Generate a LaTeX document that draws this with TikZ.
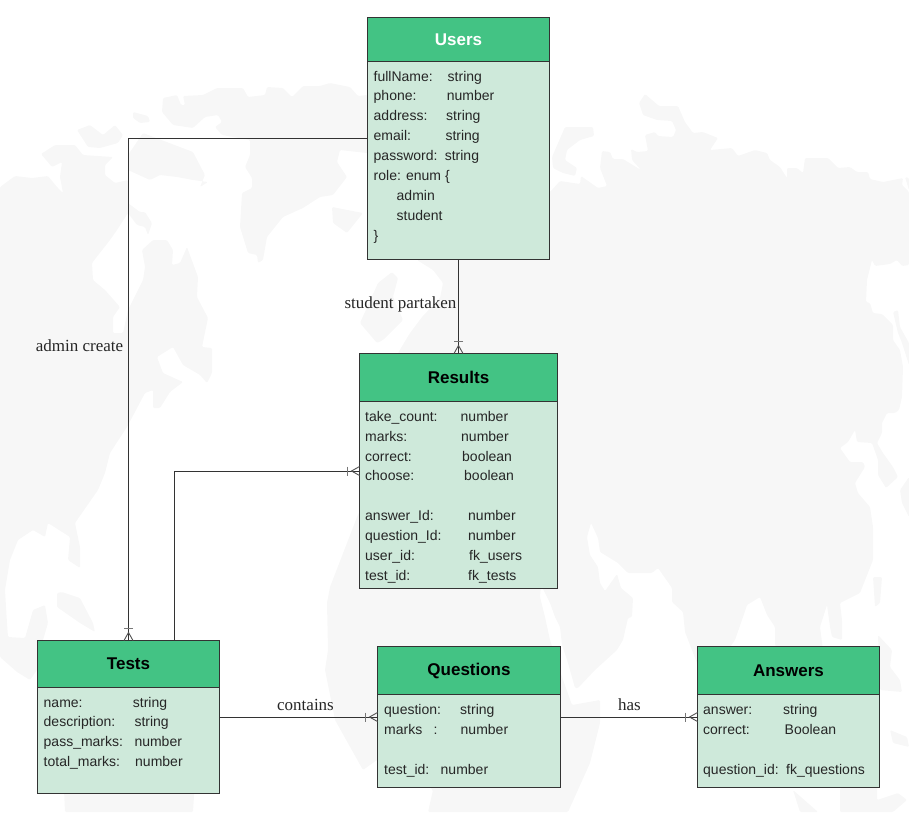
\documentclass[tikz,border=0pt]{standalone}
\usepackage{fontspec}
\setmainfont{Liberation Sans}
\newfontfamily\lblfont{Liberation Serif}
\definecolor{maptone}{HTML}{F7F7F7}
\definecolor{headfill}{HTML}{43C384}
\definecolor{bodyfill}{HTML}{CEE9DA}
\definecolor{inkline}{HTML}{333333}
\definecolor{inktext}{HTML}{262626}
\definecolor{tipgrey}{HTML}{777777}
\tikzset{
  land/.style={fill=maptone,rounded corners=1.2pt},
  entity/.style={draw=inkline,line width=1pt,fill=bodyfill,inner sep=0pt,outer sep=0pt},
  head/.style={draw=inkline,line width=1pt,fill=headfill,inner sep=0pt,outer sep=0pt,font=\fontsize{17}{17}\selectfont\bfseries,text=black},
  field/.style={anchor=base west,inner sep=0pt,font=\fontsize{14}{14}\selectfont,text=inktext},
  link/.style={draw=inkline,line width=1pt},
  rel/.style={anchor=base,inner sep=0pt,font=\lblfont\fontsize{17}{17}\selectfont,text=inktext},
  crowfoot/.pic={
    \draw[tipgrey,line width=1.6pt] (-12,-4.5) -- (-12,4.5);
    \draw[inkline!85,line width=.9pt] (0,-4.5) -- (-8,0) -- (0,4.5);
  }
}
\newcommand{\fld}[6]{%
  \node[field] (#1k) at (#2,#4) {#5};
  \node[field] (#1v) at (#3,#4) {#6};}
\newcommand{\solo}[4]{\node[field] (#1) at (#2,#3) {#4};}
\begin{document}
\begin{tikzpicture}[x=1pt,y=-1pt]
\useasboundingbox (0,0) rectangle (909,812);
% world map: Asia, Africa
\fill[land] (550,192)--(560,181)--(580,184)--(581,176)--(598,188)--(607,186)--(600,168)--(602,151)--(610,152)--(613,159)--(623,159)--(641,170)--(632,160)--(631,149)--(637,152)--(648,151)--(645,135)--(655,132)--(658,136)--(673,137)--(676,130)--(672,121)--(657,120)--(643,115)--(639,103)--(645,94)--(659,106)--(678,106)--(685,122)--(693,133)--(703,132)--(718,138)--(710,150)--(732,148)--(738,156)--(755,150)--(767,153)--(770,160)--(780,167)--(787,178)--(787,168)--(797,168)--(803,173)--(805,158)--(828,158)--(838,168)--(850,167)--(857,172)--(868,172)--(870,179)--(883,182)--(903,178)--(902,185)--(909,192)--(909,265)--(902,266)--(897,260)--(890,264)--(875,266)--(872,260)--(867,280)--(866,302)--(870,303)--(873,313)--(882,314)--(893,325)--(893,340)--(900,350)--(903,367)--(902,397)--(899,410)--(895,413)--(887,413)--(882,423)--(882,433)--(877,443)--(883,453)--(893,467)--(898,477)--(886,488)--(878,475)--(878,460)--(872,443)--(857,442)--(855,430)--(848,442)--(840,448)--(850,462)--(863,462)--(865,467)--(855,483)--(858,493)--(870,507)--(873,527)--(873,560)--(860,593)--(840,603)--(842,620)--(842,640)--(832,637)--(830,627)--(827,605)--(820,627)--(823,650)--(820,665)--(790,665)--(775,645)--(775,627)--(767,615)--(760,597)--(747,605)--(743,617)--(735,640)--(728,650)--(715,700)--(700,690)--(697,663)--(690,645)--(685,632)--(683,612)--(672,602)--(672,588)--(658,568)--(652,573)--(628,573)--(618,563)--(600,552)--(598,538)--(591,523)--(587,537)--(590,555)--(598,567)--(600,583)--(605,591)--(617,574)--(621,588)--(633,598)--(632,617)--(628,618)--(623,640)--(617,650)--(595,670)--(578,688)--(575,688)--(568,663)--(562,645)--(560,627)--(555,617)--(550,603)--(541,585)--(540,597)--(545,617)--(550,640)--(562,677)--(572,705)--(600,700)--(600,723)--(590,763)--(568,812)--(428,812)--(433,790)--(420,780)--(377,760)--(363,770)--(335,720)--(325,670)--(328,650)--(327,603)--(330,587)--(347,543)--(357,517)--(370,490)--(398,353)--(410,333)--(422,317)--(440,298)--(443,283)--(433,270)--(417,260)--(470,220)--cycle;
\fill[land] (392,272)--(398,278)--(393,297)--(403,320)--(383,340)--(377,343)--(360,323)--(378,283)--cycle;
% islands near Asia
\fill[land] (565,127)--(593,127)--(594,136)--(580,140)--(567,150)--(565,160)--(577,168)--(575,176)--(563,173)--(553,168)--(552,157)--cycle;
\fill[land] (893,312)--(898,310)--(900,327)--(909,343)--(909,365)--(902,343)--(898,333)--cycle;
\fill[land] (905,177)--(909,178)--(909,190)--cycle;
\fill[land] (900,490)--(909,477)--(909,517)--(902,503)--cycle;
\fill[land] (873,577)--(882,577)--(880,603)--(875,607)--cycle;
\fill[land] (878,635)--(892,650)--(890,667)--(900,680)--(902,692)--(880,690)--cycle;
\fill[land] (890,730)--(907,737)--(909,747)--(893,743)--cycle;
\fill[land] (793,790)--(818,812)--(800,812)--cycle;
\fill[land] (840,788)--(877,786)--(877,800)--(898,793)--(907,800)--(893,812)--(840,812)--cycle;
% North America and arctic
\fill[land] (0,187)--(15,176)--(32,178)--(48,176)--(57,187)--(63,193)--(60,177)--(62,162)--(52,167)--(41,154)--(55,145)--(75,145)--(83,155)--(113,157)--(105,165)--(105,175)--(115,183)--(128,180)--(128,203)--(140,212)--(145,212)--(152,223)--(148,235)--(145,227)--(137,225)--(128,213)--(117,230)--(110,240)--(92,263)--(93,280)--(105,290)--(120,307)--(113,317)--(113,333)--(123,333)--(128,310)--(143,280)--(145,267)--(142,250)--(153,240)--(167,240)--(173,250)--(172,265)--(180,263)--(187,247)--(198,277)--(197,297)--(208,318)--(202,347)--(212,348)--(212,373)--(207,383)--(200,375)--(183,365)--(173,347)--(157,357)--(163,373)--(183,382)--(170,392)--(160,408)--(153,408)--(153,390)--(145,393)--(127,427)--(110,453)--(105,473)--(98,490)--(75,523)--(80,547)--(80,568)--(68,560)--(70,537)--(48,523)--(45,537)--(33,530)--(18,540)--(10,560)--(5,590)--(7,623)--(8,637)--(25,638)--(33,610)--(45,605)--(48,623)--(43,640)--(37,670)--(30,680)--(17,672)--(0,657)--cycle;
\fill[land] (128,155)--(143,133)--(193,152)--(205,175)--(200,187)--(208,182)--(193,180)--(177,177)--(160,175)--(150,180)--(128,170)--cycle;
\fill[land] (77,130)--(90,125)--(103,135)--(115,125)--(123,135)--(118,143)--(100,148)--(88,147)--cycle;
% top mass running behind Users
\fill[land] (162,112)--(163,98)--(177,95)--(181,105)--(185,105)--(183,96)--(203,95)--(217,88)--(243,88)--(248,97)--(265,95)--(267,87)--(283,88)--(292,97)--(303,86)--(320,86)--(330,83)--(350,87)--(358,96)--(367,95)--(420,140)--(367,153)--(340,150)--(337,162)--(347,177)--(333,195)--(320,197)--(303,208)--(283,217)--(267,237)--(263,260)--(258,263)--(257,255)--(248,253)--(240,227)--(242,193)--(252,188)--(252,178)--(245,167)--(250,155)--(250,140)--(222,135)--(215,127)--(222,122)--(218,115)--(205,117)--(193,128)--(173,125)--cycle;
\fill[land] (133,112)--(148,116)--(150,122)--(140,123)--(133,118)--cycle;
\fill[land] (332,207)--(363,213)--(347,233)--(333,223)--cycle;
\fill[land] (57,593)--(62,592)--(80,598)--(93,623)--(95,632)--(80,623)--(57,607)--cycle;
\fill[land] (60,700)--(200,700)--(193,812)--(65,812)--cycle;
% entities
\node[entity,minimum width=182pt,minimum height=242pt] (users) at (458.5,138.5) {};
\node[head,minimum width=182pt,minimum height=44pt,text=white] (usersh) at (458.5,39.5) {Users};
\node[entity,minimum width=198pt,minimum height=235pt] (results) at (458.5,471) {};
\node[head,minimum width=198pt,minimum height=48pt] (resultsh) at (458.5,377.5) {Results};
\node[entity,minimum width=182pt,minimum height=153pt] (tests) at (128.5,717) {};
\node[head,minimum width=182pt,minimum height=47pt] (testsh) at (128.5,664) {Tests};
\node[entity,minimum width=183pt,minimum height=141pt] (questions) at (469,717) {};
\node[head,minimum width=183pt,minimum height=48pt] (questionsh) at (469,670.5) {Questions};
\node[entity,minimum width=182pt,minimum height=141pt] (answers) at (788.5,717) {};
\node[head,minimum width=182pt,minimum height=48pt] (answersh) at (788.5,670.5) {Answers};
% fields
\fld{ua}{373.5}{447.5}{81}{fullName:}{string}
\fld{ub}{373.5}{446.7}{100}{phone:}{number}
\fld{uc}{373.5}{446}{120}{address:}{string}
\fld{ud}{373.5}{445.3}{140}{email:}{string}
\fld{ue}{373.5}{444.6}{160}{password:}{string}
\solo{uf}{373.5}{180}{role: enum \{}
\solo{ug}{396.5}{200}{admin}
\solo{uh}{396.5}{220}{student}
\solo{ui}{373.5}{240}{\}}
\fld{ra}{365}{460.5}{421}{take\_count:}{number}
\fld{rb}{365}{461}{441}{marks:}{number}
\fld{rc}{365}{462}{461}{correct:}{boolean}
\fld{rd}{365}{464}{480}{choose:}{boolean}
\fld{re}{365}{468}{520}{answer\_Id:}{number}
\fld{rf}{365}{468}{540}{question\_Id:}{number}
\fld{rg}{365}{469}{560}{user\_id:}{fk\_users}
\fld{rh}{365}{468}{580}{test\_id:}{fk\_tests}
\fld{ta}{43.5}{132.7}{707}{name:}{string}
\fld{tb}{43.5}{134.3}{726}{description:}{string}
\fld{tc}{43.5}{134.3}{746}{pass\_marks:}{number}
\fld{td}{43.5}{135}{766}{total\_marks:}{number}
\fld{qa}{384}{460}{714}{question:}{string}
\fld{qb}{384}{460.5}{734}{marks}{number}
\solo{qc}{433.5}{734}{:}
\fld{qd}{384}{440.5}{774}{test\_id:}{number}
\fld{aa}{703}{783}{714}{answer:}{string}
\fld{ab}{703}{784.5}{734}{correct:}{Boolean}
\fld{ac}{703}{786}{774}{question\_id:}{fk\_questions}
% connectors
\coordinate (testsexit) at ([xshift=46pt]tests.north);
\draw[link] (users.west) -| (tests.north);
\draw[link] (users.south) -- (results.north);
\draw[link] (testsexit) |- (results.west);
\draw[link] (tests.east) -- (questions.west);
\draw[link] (questions.east) -- (answers.west);
\pic[rotate=-90] at (tests.north) {crowfoot};
\pic[rotate=-90] at (results.north) {crowfoot};
\pic at (results.west) {crowfoot};
\pic at (questions.west) {crowfoot};
\pic at (answers.west) {crowfoot};
% relation labels
\node[rel] (lbladmin) at (79.5,351) {admin create};
\node[rel] (lblstudent) at (400.5,308) {student partaken};
\node[rel] (lblcontains) at (305.5,710) {contains};
\node[rel] (lblhas) at (629.5,710) {has};
\end{tikzpicture}
\end{document}
